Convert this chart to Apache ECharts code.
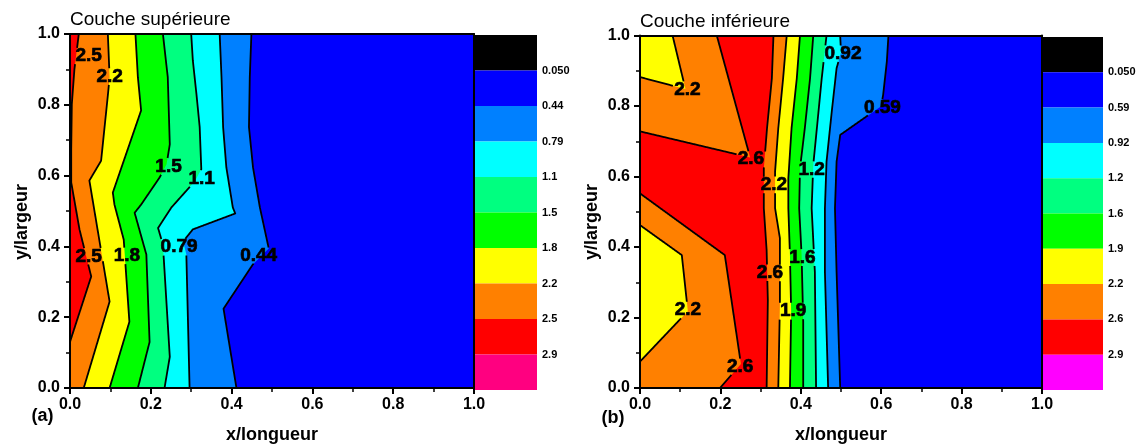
<!DOCTYPE html>
<html><head><meta charset="utf-8">
<script src="https://cdn.jsdelivr.net/npm/echarts@6/dist/echarts.min.js"></script>
<style>html,body{margin:0;padding:0;background:#fff}#c{width:1140px;height:448px}</style>
</head><body><div id="c"></div>
<script>
// ================= DATA =================
const tickLabels = ['0.0','0.2','0.4','0.6','0.8','1.0'];
// colour-scale level labels, top to bottom
const levelLabelsA = ['0.050','0.44','0.79','1.1','1.5','1.8','2.2','2.5','2.9'];
const levelLabelsB = ['0.050','0.59','0.92','1.2','1.6','1.9','2.2','2.6','2.9'];

// (a) Couche supérieure : contour lines [x/longueur, y/largeur], traced top -> bottom
const a_044 = [[0.449,1],[0.445,0.878],[0.443,0.737],[0.453,0.623],[0.470,0.510],[0.492,0.394],[0.452,0.348],[0.380,0.224],[0.412,0]];
const a_079 = [[0.3705,1],[0.375,0.878],[0.379,0.737],[0.387,0.623],[0.403,0.510],[0.409,0.493],[0.304,0.448],[0.280,0.414],[0.288,0.377],[0.296,0]];
const a_11  = [[0.300,1],[0.304,0.926],[0.313,0.830],[0.321,0.737],[0.325,0.618],[0.309,0.584],[0.251,0.510],[0.218,0.452],[0.230,0.405],[0.247,0.088],[0.234,0]];
const a_15  = [[0.230,1],[0.242,0.878],[0.247,0.688],[0.239,0.632],[0.222,0.595],[0.176,0.518],[0.160,0.495],[0.189,0.377],[0.197,0.130],[0.168,0]];
const a_18  = [[0.162,1],[0.168,0.878],[0.176,0.784],[0.106,0.552],[0.110,0.518],[0.133,0.419],[0.147,0.187],[0.098,0]];
const a_22  = [[0.0937,1],[0.098,0.878],[0.094,0.830],[0.077,0.642],[0.048,0.586],[0.098,0.244],[0.034,0]];
const a_25  = [[0.0218,1],[0.011,0.901],[0.0045,0.802],[0.003,0.674],[0.003,0.581],[0.0235,0.448],[0.0525,0.315],[0.003,0.141],[0,0.130]];
const labelsA = [['2.5',0.046,0.938],['2.2',0.098,0.880],['1.5',0.244,0.626],['1.1',0.326,0.592],
                 ['2.5',0.046,0.372],['1.8',0.141,0.373],['0.79',0.270,0.398],['0.44',0.467,0.374]];

// (b) Couche inférieure
const b_059  = [[0.618,1],[0.614,0.926],[0.605,0.833],[0.600,0.799],[0.568,0.774],[0.498,0.718],[0.489,0.642],[0.485,0.510],[0.489,0.329],[0.498,0]];
const b_092  = [[0.498,1],[0.500,0.952],[0.489,0.907],[0.477,0.784],[0.464,0.642],[0.460,0.510],[0.460,0.329],[0.468,0]];
const b_12   = [[0.464,1],[0.452,0.878],[0.440,0.737],[0.431,0.633],[0.427,0.510],[0.435,0.329],[0.438,0]];
const b_16   = [[0.431,1],[0.423,0.878],[0.410,0.737],[0.398,0.623],[0.396,0.510],[0.402,0.377],[0.406,0.188],[0.406,0]];
const b_19   = [[0.398,1],[0.390,0.878],[0.377,0.737],[0.369,0.595],[0.369,0.510],[0.373,0.377],[0.376,0.218],[0.373,0]];
const b_22r  = [[0.365,1],[0.356,0.878],[0.344,0.737],[0.336,0.614],[0.336,0.510],[0.348,0.425],[0.348,0.235],[0.344,0]];
const b_26r  = [[0.332,1],[0.328,0.878],[0.316,0.737],[0.308,0.623],[0.308,0.510],[0.315,0.391],[0.318,0.249],[0.315,0]];
const b_26up = [[0,0.728],[0.274,0.654],[0.191,1]];
const b_22up = [[0,0.882],[0.113,0.848],[0.081,1]];
const b_26lo = [[0,0.552],[0.211,0.377],[0.251,0.068],[0.199,0]];
const b_22lo = [[0,0.462],[0.104,0.377],[0.119,0.218],[0,0.075]];
const labelsB = [['2.2',0.118,0.847],['2.6',0.276,0.649],['2.2',0.333,0.576],['1.2',0.427,0.620],
                 ['0.92',0.505,0.948],['0.59',0.603,0.796],['2.6',0.323,0.327],['1.6',0.404,0.370],
                 ['1.9',0.381,0.218],['2.2',0.119,0.221],['2.6',0.249,0.060]];

// ================= STYLE =================
const C = {black:'#000000', blue:'#0000FF', sky:'#0080FF', cyan:'#00FFFF', spring:'#00FF80',
           green:'#00FF00', yellow:'#FFFF00', orange:'#FF8000', red:'#FF0000', pink:'#FF0080', magenta:'#FF00FF'};
const bandColorsA = [C.black,C.blue,C.sky,C.cyan,C.spring,C.green,C.yellow,C.orange,C.red,C.pink];
const bandColorsB = [C.black,C.blue,C.sky,C.cyan,C.spring,C.green,C.yellow,C.orange,C.red,C.magenta];
const FONT = '"Liberation Sans", Arial, sans-serif';
const full = [[0,0],[1,0],[1,1],[0,1]];
const L = [[0,0],[0,1]];

const layersA = [
  {path: full, close: [], color: C.blue},
  {path: a_044, close: L, color: C.sky},
  {path: a_079, close: L, color: C.cyan},
  {path: a_11, close: L, color: C.spring},
  {path: a_15, close: L, color: C.green},
  {path: a_18, close: L, color: C.yellow},
  {path: a_22, close: L, color: C.orange},
  {path: a_25, close: [[0,1]], color: C.red}
];
const layersB = [
  {path: full, close: [], color: C.blue},
  {path: b_059, close: L, color: C.sky},
  {path: b_092, close: L, color: C.cyan},
  {path: b_12, close: L, color: C.spring},
  {path: b_16, close: L, color: C.green},
  {path: b_19, close: L, color: C.yellow},
  {path: b_22r, close: L, color: C.orange},
  {path: b_26r, close: L, color: C.red},
  {path: b_26up, close: [[0,1]], color: C.orange},
  {path: b_22up, close: [[0,1]], color: C.yellow},
  {path: b_26lo, close: [[0,0]], color: C.orange},
  {path: b_22lo, close: [], color: C.yellow}
];
const linesA = [a_044,a_079,a_11,a_15,a_18,a_22,a_25];
const linesB = [b_059,b_092,b_12,b_16,b_19,b_22r,b_26r,b_26up,b_22up,b_26lo,b_22lo];

const LABEL_FONT = 'bold 19px ' + FONT;
const mctx = document.createElement('canvas').getContext('2d');
function textW(t){ mctx.font = LABEL_FONT; return mctx.measureText(t).width; }

function outsideRuns(pts, rects){
  const runs = []; let cur = [];
  const inside = (x,y) => rects.some(r => x>r[0] && x<r[2] && y>r[1] && y<r[3]);
  for (let i=0;i<pts.length-1;i++){
    const x0=pts[i][0], y0=pts[i][1], x1=pts[i+1][0], y1=pts[i+1][1];
    const n = Math.max(1, Math.ceil(Math.hypot(x1-x0,y1-y0)/0.5));
    for (let k=(i===0?0:1); k<=n; k++){
      const t=k/n, x=x0+(x1-x0)*t, y=y0+(y1-y0)*t;
      if (inside(x,y)) { if (cur.length>1) runs.push(cur); cur=[]; }
      else cur.push([x,y]);
    }
  }
  if (cur.length>1) runs.push(cur);
  return runs;
}

function fillSeries(ax, layers){
  return {type:'custom', xAxisIndex:ax, yAxisIndex:ax, z:1, silent:true, clip:true,
    data: layers.map(()=>[0.5,0.5]), encode:{x:0,y:1},
    renderItem(params, api){
      const Ly = layers[params.dataIndex];
      const pts = Ly.path.concat(Ly.close).map(p=>api.coord(p));
      return {type:'polygon', shape:{points:pts}, style:{fill:Ly.color}};
    }};
}
function lineSeries(ax, paths, labels){
  return {type:'custom', xAxisIndex:ax, yAxisIndex:ax, z:3, silent:true, clip:true,
    data: paths.map(()=>[0.5,0.5]), encode:{x:0,y:1},
    renderItem(params, api){
      const pts = paths[params.dataIndex].map(p=>api.coord(p));
      const rects = labels.map(l=>{ const c=api.coord([l[1],l[2]]); const w=textW(l[0])/2+1; return [c[0]-w,c[1]-8,c[0]+w,c[1]+8]; });
      const runs = outsideRuns(pts, rects);
      return {type:'group', children: runs.map(r=>({type:'polyline', shape:{points:r},
        style:{stroke:'#000', lineWidth:1.8, fill:null, lineJoin:'round'}}))};
    }};
}
function labelSeries(ax, labels){
  return {type:'custom', xAxisIndex:ax, yAxisIndex:ax, z:4, silent:true,
    data: labels.map(l=>[l[1],l[2]]), encode:{x:0,y:1},
    renderItem(params, api){
      const c = api.coord([api.value(0), api.value(1)]);
      return {type:'text', x:c[0], y:c[1], style:{text:labels[params.dataIndex][0], font:LABEL_FONT, fill:'#000',
        stroke:'#000', lineWidth:0.7,
        align:'center', verticalAlign:'middle', textAlign:'center', textVerticalAlign:'middle'}};
    }};
}
function barSeries(ax, colors){
  return {type:'custom', xAxisIndex:ax, yAxisIndex:ax, z:1, silent:true,
    data: colors.map((c,i)=>[0, colors.length-1-i]), encode:{x:0,y:1},
    renderItem(params, api){
      const lo = api.value(1);
      const p0 = api.coord([0, lo+1]), p1 = api.coord([1, lo]);
      return {type:'rect', shape:{x:p0[0], y:p0[1], width:p1[0]-p0[0], height:p1[1]-p0[1]}, style:{fill:colors[params.dataIndex]}};
    }};
}

function mainAxis(gi, isX){
  return {type:'value', gridIndex:gi, min:0, max:1, interval:0.2, z:10,
    position: isX ? 'bottom' : 'left',
    axisLine:{show:true, onZero:false, lineStyle:{color:'#000', width:2}},
    axisTick:{show:true, length:6, lineStyle:{color:'#000', width:2}},
    minorTick:{show:true, splitNumber:2, length:4, lineStyle:{color:'#000', width:1.5}},
    splitLine:{show:false}, minorSplitLine:{show:false},
    axisLabel:{show:true, margin: isX ? 9 : 10, color:'#000', fontSize:16, fontWeight:'bold', fontFamily:FONT,
      formatter: v => tickLabels[Math.round(v/0.2)]}};
}
function frameAxis(gi, isX){
  return {type:'value', gridIndex:gi, min:0, max:1, z:10, position: isX ? 'top' : 'right',
    axisLine:{show:true, onZero:false, lineStyle:{color:'#000', width:2}},
    axisTick:{show:false}, axisLabel:{show:false}, splitLine:{show:false}};
}
function cbY(gi, labels){
  return {type:'value', gridIndex:gi, min:0, max:10, interval:1, position:'right',
    axisLine:{show:false}, axisTick:{show:false}, splitLine:{show:false},
    axisLabel:{margin:5, color:'#000', fontSize:11, fontWeight:'bold', fontFamily:FONT,
      formatter: v => (v>=1 && v<=9) ? labels[9-v] : ''}};
}
const cbX = gi => ({type:'value', gridIndex:gi, min:0, max:1, show:false});

const chart = echarts.init(document.getElementById('c'), null, {renderer:'canvas'});
chart.setOption({
  animation:false,
  backgroundColor:'#fff',
  grid:[
    {left:70, top:34, width:404, height:354},
    {left:640, top:35.5, width:402, height:352.5},
    {left:475, top:35, width:62, height:355},
    {left:1042, top:37, width:61, height:353}
  ],
  xAxis:[mainAxis(0,true), mainAxis(1,true), cbX(2), cbX(3), frameAxis(0,true), frameAxis(1,true)],
  yAxis:[mainAxis(0,false), mainAxis(1,false), cbY(2,levelLabelsA), cbY(3,levelLabelsB), frameAxis(0,false), frameAxis(1,false)],
  series:[
    fillSeries(0, layersA), lineSeries(0, linesA, labelsA), labelSeries(0, labelsA),
    fillSeries(1, layersB), lineSeries(1, linesB, labelsB), labelSeries(1, labelsB),
    barSeries(2, bandColorsA), barSeries(3, bandColorsB)
  ],
  graphic:[
    {type:'text', x:70, y:20, style:{text:'Couche supérieure', font:'19px '+FONT, fill:'#000', verticalAlign:'middle', textVerticalAlign:'middle'}},
    {type:'text', x:640, y:21.5, style:{text:'Couche inférieure', font:'19px '+FONT, fill:'#000', verticalAlign:'middle', textVerticalAlign:'middle'}},
    {type:'text', x:272, y:435, style:{text:'x/longueur', font:'bold 18px '+FONT, fill:'#000', align:'center', verticalAlign:'middle', textAlign:'center', textVerticalAlign:'middle'}},
    {type:'text', x:841, y:435, style:{text:'x/longueur', font:'bold 18px '+FONT, fill:'#000', align:'center', verticalAlign:'middle', textAlign:'center', textVerticalAlign:'middle'}},
    {type:'text', x:22, y:222, rotation:Math.PI/2, style:{text:'y/largeur', font:'bold 18px '+FONT, fill:'#000', align:'center', verticalAlign:'middle', textAlign:'center', textVerticalAlign:'middle'}},
    {type:'text', x:592, y:222, rotation:Math.PI/2, style:{text:'y/largeur', font:'bold 18px '+FONT, fill:'#000', align:'center', verticalAlign:'middle', textAlign:'center', textVerticalAlign:'middle'}},
    {type:'text', x:42.5, y:416, style:{text:'(a)', font:'bold 18px '+FONT, fill:'#000', align:'center', verticalAlign:'middle', textAlign:'center', textVerticalAlign:'middle'}},
    {type:'text', x:613, y:418, style:{text:'(b)', font:'bold 18px '+FONT, fill:'#000', align:'center', verticalAlign:'middle', textAlign:'center', textVerticalAlign:'middle'}}
  ]
});
</script>
</body></html>
